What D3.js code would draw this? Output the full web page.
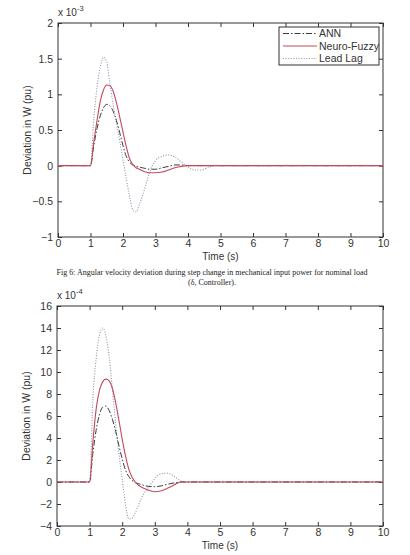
<!DOCTYPE html>
<html>
<head>
<meta charset="utf-8">
<script src="https://cdn.jsdelivr.net/npm/d3@7"></script>
<style>
  body { margin: 0; background: #fff; }
  svg text { font-family: "Liberation Sans", Arial, sans-serif; }
  .caption { font-family: "Liberation Serif", "Times New Roman", serif; }
</style>
</head>
<body>
<svg id="chart" width="410" height="555"></svg>
<script>
// shared time grid (s)
var times = [0, 1, 1.1, 1.2, 1.3, 1.4, 1.5, 1.6, 1.7, 1.8, 1.9, 2.0, 2.1, 2.2, 2.3, 2.4, 2.5,
    2.6, 2.7, 2.8, 2.9, 3.0, 3.2, 3.4, 3.6, 3.8, 4.0, 4.2, 4.4, 4.6, 4.8, 5, 10];

// top panel, x 10^-3
var annTop = [0, 0, 0.28, 0.52, 0.70, 0.81, 0.86, 0.84, 0.76, 0.63, 0.46, 0.28, 0.13, 0.05, 0.01, -0.01, -0.02,
    -0.03, -0.04, -0.05, -0.05, -0.05, -0.03, -0.01, 0.01, 0.01, 0, 0, 0, 0, 0, 0, 0];
var fuzzyTop = [0, 0, 0.33, 0.63, 0.90, 1.06, 1.13, 1.12, 1.04, 0.88, 0.68, 0.47, 0.27, 0.10, 0.02, -0.03, -0.05,
    -0.07, -0.09, -0.10, -0.10, -0.10, -0.09, -0.06, -0.03, -0.01, 0, 0, 0, 0, 0, 0, 0];
var leadLagTop = [0, 0, 0.65, 1.10, 1.38, 1.52, 1.45, 1.15, 0.85, 0.60, 0.35, 0.08, -0.18, -0.42, -0.62, -0.65, -0.55,
    -0.42, -0.27, -0.12, 0.0, 0.07, 0.13, 0.15, 0.12, 0.05, -0.02, -0.06, -0.06, -0.03, 0, 0, 0];

// bottom panel, x 10^-4
var annBottom = [0, 0, 2.6, 4.7, 6.1, 6.8, 6.9, 6.5, 5.7, 4.6, 3.3, 2.1, 1.1, 0.5, 0.15, -0.05, -0.15,
    -0.25, -0.33, -0.40, -0.42, -0.43, -0.35, -0.20, -0.08, 0, 0, 0, 0, 0, 0, 0, 0];
var fuzzyBottom = [0, 0, 3.6, 6.6, 8.3, 9.1, 9.35, 9.2, 8.5, 7.2, 5.6, 3.9, 2.4, 1.2, 0.45, 0.0, -0.3,
    -0.48, -0.62, -0.74, -0.84, -0.88, -0.80, -0.55, -0.25, 0, 0, 0, 0, 0, 0, 0, 0];
var leadLagBottom = [0, 0, 7.5, 11.2, 13.3, 14.0, 13.3, 11.4, 8.4, 5.3, 2.6, 0.2, -2.0, -3.35, -3.3, -2.8, -2.1,
    -1.4, -0.9, -0.5, -0.1, 0.3, 0.75, 0.8, 0.5, 0.1, 0, 0, 0, 0, 0, 0, 0];

var xTicks = [0, 1, 2, 3, 4, 5, 6, 7, 8, 9, 10];
var yTicksTop = [-1, -0.5, 0, 0.5, 1, 1.5, 2];
var yTicksBottom = [-4, -2, 0, 2, 4, 6, 8, 10, 12, 14, 16];
var seriesNames = ['ANN', 'Neuro-Fuzzy', 'Lead Lag'];

var styles = {
    'ANN': { color: '#3a3a3a', dash: '6,2,1.5,2', width: 1 },
    'Neuro-Fuzzy': { color: '#c24a5c', dash: null, width: 1.1 },
    'Lead Lag': { color: '#8a94a6', dash: '1,1.6', width: 1.1 }
};

var svg = d3.select('#chart');


function drawPanel(cfg) {
    var x = d3.scaleLinear().domain([0, 10]).range([cfg.left, cfg.right]),
        y = d3.scaleLinear().domain(cfg.yDomain).range([cfg.bottom, cfg.top]);

    var g = svg.append('g');

    // box
    g.append('rect')
        .attr('x', cfg.left)
        .attr('y', cfg.top)
        .attr('width', cfg.right - cfg.left)
        .attr('height', cfg.bottom - cfg.top)
        .attr('fill', 'none')
        .attr('stroke', '#333')
        .attr('stroke-width', 1);

    var axes = [
        { axis: d3.axisBottom(x).tickValues(xTicks), at: 'translate(0,' + cfg.bottom + ')', labels: true, pad: 3 },
        { axis: d3.axisTop(x).tickValues(xTicks), at: 'translate(0,' + cfg.top + ')', labels: false, pad: 3 },
        { axis: d3.axisLeft(y).tickValues(cfg.yTicks), at: 'translate(' + cfg.left + ',0)', labels: true, pad: 5 },
        { axis: d3.axisRight(y).tickValues(cfg.yTicks), at: 'translate(' + cfg.right + ',0)', labels: false, pad: 5 }
    ];

    axes.forEach(function(a) {
        var ag = g.append('g')
            .attr('transform', a.at)
            .call(a.axis.tickSize(-4).tickPadding(a.pad).tickFormat(a.labels ? d3.format('') : ''));
        ag.select('.domain').remove();
        ag.selectAll('line').attr('stroke', '#333');
        ag.selectAll('text')
            .attr('fill', '#333')
            .style('font-size', '10.5px');
    });

    // exponent label
    var ex = g.append('text')
        .attr('x', cfg.left)
        .attr('y', cfg.top - 7)
        .attr('fill', '#333')
        .style('font-size', '10px')
        .text('x 10');
    ex.append('tspan')
        .attr('dy', -5)
        .style('font-size', '7.5px')
        .text(cfg.exponent);

    g.append('text')
        .attr('x', (cfg.left + cfg.right) / 2)
        .attr('y', cfg.bottom + 23)
        .attr('text-anchor', 'middle')
        .attr('fill', '#333')
        .style('font-size', '10px')
        .text('Time (s)');

    g.append('text')
        .attr('transform', 'translate(' + (cfg.left - 27) + ',' + ((cfg.top + cfg.bottom) / 2) + ') rotate(-90)')
        .attr('text-anchor', 'middle')
        .attr('fill', '#333')
        .style('font-size', '10.5px')
        .text('Deviation in W (pu)');

    var line = d3.line()
        .x(function(d) { return x(d[0]); })
        .y(function(d) { return y(d[1]); })
        .curve(d3.curveMonotoneX);

    // lead lag first so the red trace sits on top of the flat tail
    ['Lead Lag', 'ANN', 'Neuro-Fuzzy'].forEach(function(name) {
        var s = styles[name],
            pts = times.map(function(t, i) { return [t, cfg.series[name][i]]; });
        g.append('path')
            .datum(pts)
            .attr('d', line)
            .attr('fill', 'none')
            .attr('stroke', s.color)
            .attr('stroke-width', s.width)
            .attr('stroke-dasharray', s.dash);
    });

    if (cfg.legend) {
        var lg = g.append('g').attr('transform', 'translate(279,27)');
        lg.append('rect')
            .attr('width', 100)
            .attr('height', 38)
            .attr('fill', '#fff')
            .attr('stroke', '#333');
        seriesNames.forEach(function(name, i) {
            var s = styles[name], yy = 6.5 + i * 12.5;
            lg.append('line')
                .attr('x1', 4).attr('x2', 38)
                .attr('y1', yy).attr('y2', yy)
                .attr('stroke', s.color)
                .attr('stroke-width', s.width)
                .attr('stroke-dasharray', s.dash);
            lg.append('text')
                .attr('x', 40)
                .attr('y', yy + 3.5)
                .attr('fill', '#333')
                .style('font-size', '10.5px')
                .text(name);
        });
    }
}


drawPanel({
    left: 58, right: 383, top: 23, bottom: 237,
    yDomain: [-1, 2], yTicks: yTicksTop, exponent: '-3', legend: true,
    series: { 'ANN': annTop, 'Neuro-Fuzzy': fuzzyTop, 'Lead Lag': leadLagTop }
});

drawPanel({
    left: 57, right: 383, top: 306, bottom: 526,
    yDomain: [-4, 16], yTicks: yTicksBottom, exponent: '-4', legend: false,
    series: { 'ANN': annBottom, 'Neuro-Fuzzy': fuzzyBottom, 'Lead Lag': leadLagBottom }
});

// caption
svg.append('text')
    .attr('class', 'caption')
    .attr('x', 212)
    .attr('y', 275)
    .attr('text-anchor', 'middle')
    .attr('fill', '#222')
    .style('font-size', '8px')
    .text('Fig 6: Angular velocity deviation during step change in mechanical input power for nominal load');
svg.append('text')
    .attr('class', 'caption')
    .attr('x', 212)
    .attr('y', 285)
    .attr('text-anchor', 'middle')
    .attr('fill', '#222')
    .style('font-size', '8px')
    .text('(δ, Controller).');
</script>
</body>
</html>
